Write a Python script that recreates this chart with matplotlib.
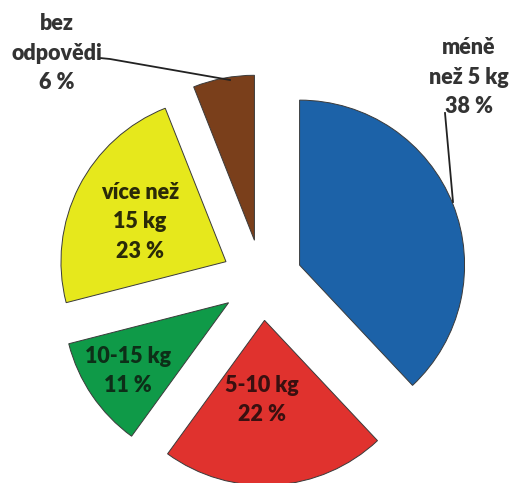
import matplotlib
matplotlib.use("Agg")
import matplotlib.pyplot as plt

categories = ["méně\nnež 5 kg", "5-10 kg", "10-15 kg", "více než\n15 kg", "bez\nodpovědi"]
values = [38, 22, 11, 23, 6]
pct_labels = ["38 %", "22 %", "11 %", "23 %", "6 %"]
colors = ["#1c62a8", "#e0322e", "#0f9a48", "#e6e81c", "#7a3f1b"]

W, H = 510, 483
fig = plt.figure(figsize=(W / 100, H / 100), dpi=100)
ax = fig.add_axes([0, 0, 1, 1])

# pixel mapping: center of pie at (262, 280) px, radius 165 px
cx, cy, R = 262.0, 280.0, 165.0

def px(x, y):
    return ((x - cx) / R, (cy - y) / R)

wedges, _ = ax.pie(values, colors=colors, startangle=90, counterclock=False,
                   explode=[0.245] * len(values), radius=1.0,
                   wedgeprops=dict(edgecolor="#3a3a3a", linewidth=0.7))
ax.set_axis_off()
ax.set_xlim(-cx / R, (W - cx) / R)
ax.set_ylim(-(H - cy) / R, cy / R)
ax.set_aspect("equal")

font = dict(family=["Lato", "DejaVu Sans"], fontweight="heavy", fontsize=15.5,
            ha="center", va="center", linespacing=1.5)

texts = [
    (469, 77, categories[0] + "\n" + pct_labels[0], "#333333"),
    (262, 400, categories[1] + "\n" + pct_labels[1], "#3a1010"),
    (128, 371, categories[2] + "\n" + pct_labels[2], "#0d2f18"),
    (140, 222, categories[3] + "\n" + pct_labels[3], "#2a2a08"),
    (57, 53, categories[4] + "\n" + pct_labels[4], "#333333"),
]
for x, y, s, c in texts:
    ax.text(*px(x, y), s, color=c, **font)

# leader lines
l1 = [px(100, 58), px(110, 59), px(230, 80)]
ax.plot([p[0] for p in l1], [p[1] for p in l1], color="#222222", lw=1.3)
l2 = [px(445, 113), px(453, 202)]
ax.plot([p[0] for p in l2], [p[1] for p in l2], color="#222222", lw=1.3)

fig.savefig("out.png", dpi=100, facecolor="white")
